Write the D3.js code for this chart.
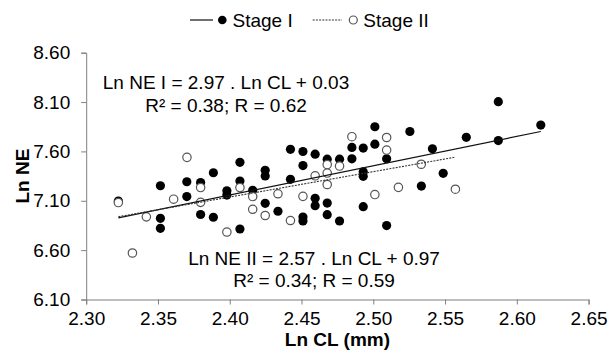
<!DOCTYPE html>
<html>
<head>
<meta charset="utf-8">
<script src="https://cdn.jsdelivr.net/npm/d3@7/dist/d3.min.js"></script>
<style>
  html, body { margin: 0; padding: 0; background: #fff; }
  svg { display: block; font-family: "Liberation Sans", Arial, sans-serif; }
</style>
</head>
<body>
<svg id="chart" width="610" height="357"></svg>
<script>
// ---- Data ----
const stage1LnCL = [2.3224, 2.3517, 2.3517, 2.3517, 2.3701, 2.3701, 2.3797, 2.3797, 2.3886, 2.3886,
  2.398, 2.398, 2.4071, 2.4071, 2.4071, 2.416, 2.4247, 2.4247, 2.4247, 2.4336,
  2.4423, 2.4423, 2.451, 2.451, 2.451, 2.451, 2.4595, 2.4595, 2.4595, 2.4679,
  2.4679, 2.4679, 2.4765, 2.4765, 2.4851, 2.4851, 2.493, 2.493, 2.493, 2.493,
  2.5011, 2.5011, 2.5093, 2.5093, 2.5255, 2.5335, 2.5412, 2.5487, 2.5648, 2.5871,
  2.5871, 2.6167];
const stage1LnNE = [7.097, 7.252, 6.922, 6.821, 7.293, 7.143, 7.285, 6.961, 7.384, 6.933,
  7.201, 7.158, 7.490, 7.300, 6.814, 7.206, 7.409, 7.351, 7.074, 6.994,
  7.621, 7.317, 7.599, 7.457, 6.935, 6.895, 7.572, 7.125, 7.050, 7.521,
  7.077, 6.959, 7.521, 6.895, 7.640, 7.525, 7.634, 7.394, 7.348, 7.040,
  7.850, 7.673, 7.526, 6.849, 7.802, 7.249, 7.627, 7.378, 7.743, 8.104,
  7.710, 7.867];
const stage2LnCL = [2.3224, 2.3322, 2.3419, 2.3609, 2.3702, 2.3797, 2.3797, 2.398, 2.4071, 2.416,
  2.416, 2.4247, 2.4336, 2.4423, 2.451, 2.4595, 2.4679, 2.4679, 2.4679, 2.4765,
  2.4851, 2.5011, 2.5093, 2.5093, 2.5175, 2.5334, 2.5572];
const stage2LnNE = [7.082, 6.571, 6.937, 7.116, 7.540, 7.234, 7.084, 6.783, 7.234, 7.143,
  7.014, 6.951, 7.171, 6.900, 7.145, 7.353, 7.467, 7.381, 7.265, 7.452,
  7.749, 7.163, 7.741, 7.614, 7.236, 7.470, 7.217];

const seriesNames = ["Stage I", "Stage II"];
const slopes = [2.97, 2.57];
const intercepts = [0.03, 0.97];
const eqLabels = ["Ln NE I = 2.97 . Ln CL + 0.03", "Ln NE II = 2.57 . Ln CL + 0.97"];
const rLabels = ["R\u00B2 = 0.38; R = 0.62", "R\u00B2 = 0.34; R = 0.59"];

const xTicks = [2.30, 2.35, 2.40, 2.45, 2.50, 2.55, 2.60, 2.65];
const yTicks = [6.10, 6.60, 7.10, 7.60, 8.10, 8.60];
const xTitle = "Ln CL (mm)";
const yTitle = "Ln NE";

// ---- Layout ----
const svg = d3.select("#chart");
const L = 86.2, R = 588.6, T = 52.7, B = 299.5;
const x = d3.scaleLinear().domain([2.30, 2.65]).range([L, R]);
const y = d3.scaleLinear().domain([6.10, 8.60]).range([B, T]);
const FS = 19;
const axisColor = "#7f7f7f";

// Axes
const xAxis = svg.append("g").attr("transform", `translate(0,${B})`)
  .call(d3.axisBottom(x).tickValues(xTicks).tickFormat(d3.format(".2f")).tickSizeOuter(0).tickSize(5).tickPadding(7));
const yAxis = svg.append("g").attr("transform", `translate(${L},0)`)
  .call(d3.axisLeft(y).tickValues(yTicks).tickFormat(d3.format(".2f")).tickSizeOuter(0).tickSize(5).tickPadding(11));
[xAxis, yAxis].forEach(g => {
  g.selectAll("path.domain").attr("stroke", axisColor).attr("stroke-width", 1);
  g.selectAll("line").attr("stroke", axisColor).attr("stroke-width", 1);
  g.selectAll("text").attr("font-size", FS).attr("fill", "#000")
    .attr("font-family", "'Liberation Sans', Arial, sans-serif");
});

// Axis titles
svg.append("text").attr("x", (L + R) / 2).attr("y", 346)
  .attr("text-anchor", "middle").attr("font-size", FS).attr("font-weight", "bold").text(xTitle);
svg.append("text").attr("transform", `translate(29,${(T + B) / 2}) rotate(-90)`)
  .attr("text-anchor", "middle").attr("font-size", FS).attr("font-weight", "bold").text(yTitle);

// Points: Stage I (filled) then Stage II (open) on top
const s1 = stage1LnCL.map((v, i) => [v, stage1LnNE[i]]);
const s2 = stage2LnCL.map((v, i) => [v, stage2LnNE[i]]);
svg.append("g").selectAll("circle").data(s1).join("circle")
  .attr("cx", d => x(d[0])).attr("cy", d => y(d[1])).attr("r", 4.6).attr("fill", "#000");
svg.append("g").selectAll("circle").data(s2).join("circle")
  .attr("cx", d => x(d[0])).attr("cy", d => y(d[1])).attr("r", 4.2)
  .attr("fill", "#fff").attr("stroke", "#555").attr("stroke-width", 1.2);

// Trend lines
[s1, s2].forEach((s, k) => {
  const ext = d3.extent(s, d => d[0]);
  const pts = ext.map(v => [v, slopes[k] * v + intercepts[k]]);
  svg.append("line")
    .attr("x1", x(pts[0][0])).attr("y1", y(pts[0][1]))
    .attr("x2", x(pts[1][0])).attr("y2", y(pts[1][1]))
    .attr("stroke", k === 0 ? "#111" : "#333").attr("stroke-width", k === 0 ? 1.2 : 1.1)
    .attr("stroke-dasharray", k === 0 ? null : "2,1.2");
});

// Equation labels
const eqPos = [[226, 88.5, 111.5], [314, 264.5, 287]];
eqPos.forEach((p, k) => {
  svg.append("text").attr("x", p[0]).attr("y", p[1]).attr("text-anchor", "middle")
    .attr("font-size", FS).text(eqLabels[k]);
  svg.append("text").attr("x", p[0]).attr("y", p[2]).attr("text-anchor", "middle")
    .attr("font-size", FS).text(rLabels[k]);
});

// Legend
const leg = [
  {x0: 190, x1: 213, dot: 222.3, tx: 232.5},
  {x0: 312.7, x1: 342, dot: 353.3, tx: 363.3}
];
leg.forEach((l, k) => {
  svg.append("line").attr("x1", l.x0).attr("x2", l.x1).attr("y1", 20).attr("y2", 20)
    .attr("stroke", k === 0 ? "#111" : "#333").attr("stroke-width", k === 0 ? 1.2 : 1.1)
    .attr("stroke-dasharray", k === 0 ? null : "2,1.2");
  if (k === 0) {
    svg.append("circle").attr("cx", l.dot).attr("cy", 20).attr("r", 4.3).attr("fill", "#000");
  } else {
    svg.append("circle").attr("cx", l.dot).attr("cy", 20).attr("r", 4)
      .attr("fill", "#fff").attr("stroke", "#555").attr("stroke-width", 1.2);
  }
  svg.append("text").attr("x", l.tx).attr("y", 26.7).attr("font-size", FS).text(seriesNames[k]);
});
</script>
</body>
</html>
